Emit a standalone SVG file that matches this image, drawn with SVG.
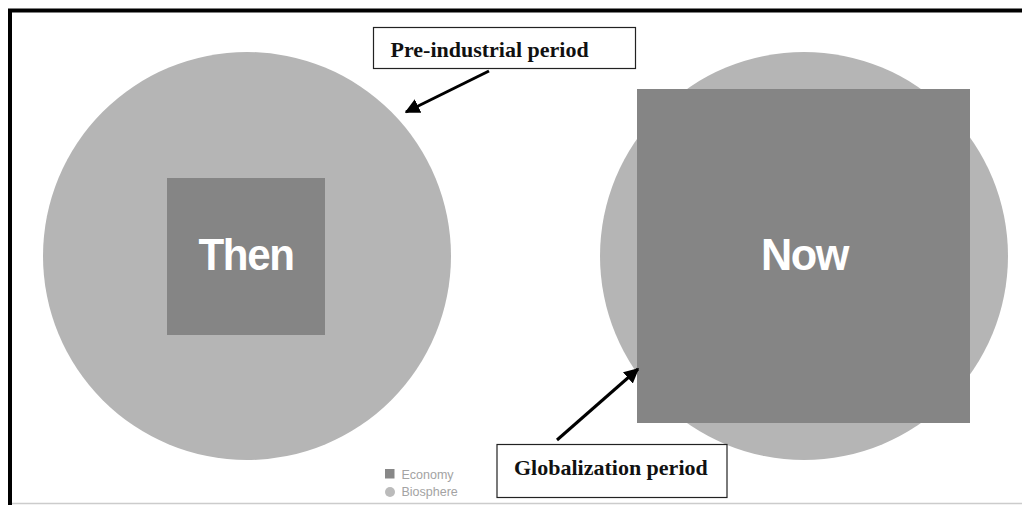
<svg xmlns="http://www.w3.org/2000/svg" width="1022" height="505" viewBox="0 0 1022 505">
  <style>
    .bio { fill: #b5b5b5; }
    .eco { fill: #858585; }
    .big { font-family: "Liberation Sans", Arial, sans-serif; font-weight: bold; font-size: 45px; letter-spacing: -1.5px; fill: #ffffff; text-anchor: middle; }
    .callout { fill: #ffffff; stroke: #222222; stroke-width: 1.2; }
    .callout-text { font-family: "Liberation Serif", "Times New Roman", serif; font-weight: bold; font-size: 22px; fill: #111111; }
    .legend-text { font-family: "Liberation Sans", Arial, sans-serif; font-size: 12.5px; fill: #a3a3a3; }
    .conn { stroke: #000000; stroke-width: 3; fill: none; }
  </style>
  <defs>
    <marker id="arrow" viewBox="0 0 10 10" refX="9" refY="5" markerWidth="5" markerHeight="5" orient="auto" markerUnits="strokeWidth">
      <path d="M0,0 L10,5 L0,10 Z" fill="#000000"/>
    </marker>
  </defs>

  <!-- page background and frame -->
  <rect x="0" y="0" width="1022" height="505" fill="#ffffff"/>
  <line x1="12" y1="503.5" x2="1022" y2="503.5" stroke="#cccccc" stroke-width="1.5"/>
  <line x1="8" y1="10.5" x2="1022" y2="10.5" stroke="#000000" stroke-width="4"/>
  <line x1="10" y1="9" x2="10" y2="505" stroke="#000000" stroke-width="4"/>

  <!-- pre-industrial: small economy inside the biosphere -->
  <g id="then">
    <circle class="bio" cx="247" cy="256" r="204"/>
    <rect class="eco" x="167" y="178" width="158" height="157"/>
    <text class="big" x="246" y="270" textLength="95" lengthAdjust="spacingAndGlyphs">Then</text>
  </g>

  <!-- globalization: economy outgrowing the biosphere -->
  <g id="now">
    <circle class="bio" cx="804" cy="256" r="204"/>
    <rect class="eco" x="637" y="89" width="333" height="334"/>
    <text class="big" x="804.5" y="270" textLength="87" lengthAdjust="spacingAndGlyphs">Now</text>
  </g>

  <!-- legend -->
  <g id="legend">
    <rect x="385" y="469" width="9.5" height="9.5" fill="#888888"/>
    <text class="legend-text" x="401.5" y="479">Economy</text>
    <circle cx="390" cy="492" r="5" fill="#bbbbbb"/>
    <text class="legend-text" x="401.5" y="496">Biosphere</text>
  </g>

  <!-- callout labels -->
  <g id="label-preindustrial">
    <rect class="callout" x="373.5" y="27.5" width="262" height="41"/>
    <text class="callout-text" x="390.5" y="56.5">Pre-industrial period</text>
  </g>
  <g id="label-globalization">
    <rect class="callout" x="497" y="444.5" width="230" height="53"/>
    <text class="callout-text" x="514" y="475">Globalization period</text>
  </g>

  <!-- connectors -->
  <g id="connectors">
    <line class="conn" x1="489" y1="71" x2="406" y2="112" marker-end="url(#arrow)"/>
    <line class="conn" x1="557" y1="440" x2="638" y2="369" marker-end="url(#arrow)"/>
  </g>
</svg>
